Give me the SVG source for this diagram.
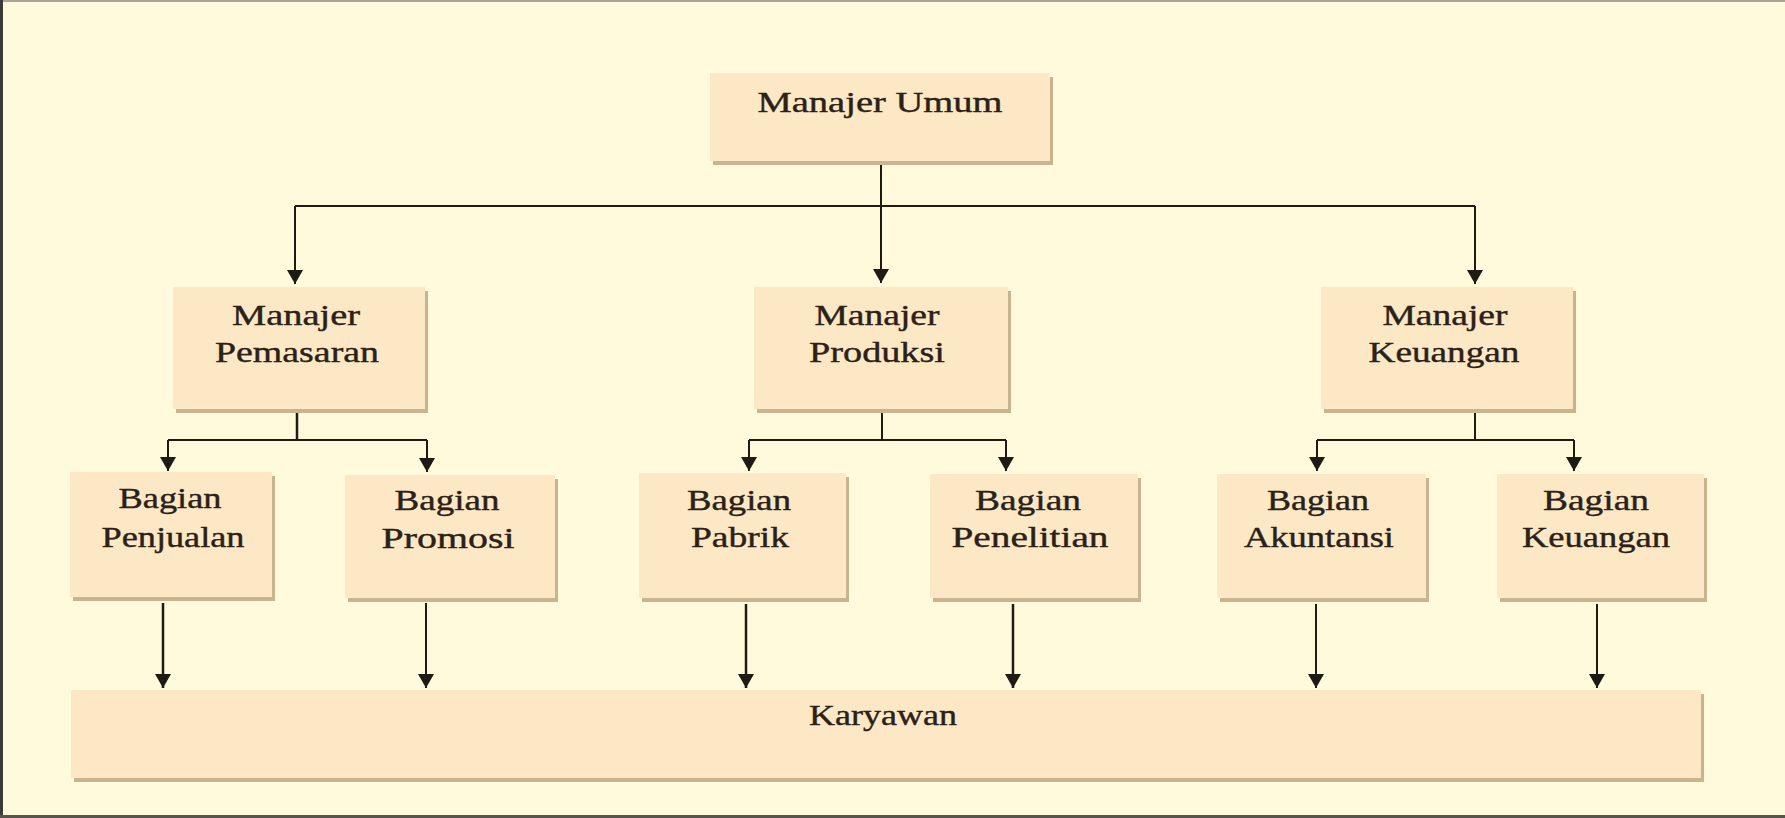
<svg xmlns="http://www.w3.org/2000/svg" width="1785" height="818" viewBox="0 0 1785 818">
  <style>
    .bg { fill: #FFFADB; }
    .box { fill: #FDE8C6; }
    .shadow { fill: #C9B48E; }
    .lbl { font-family: "Liberation Serif", "Times New Roman", serif; font-size: 30px; fill: #2A2118; stroke: #2A2118; stroke-width: 0.4; text-anchor: middle; }
    .con { stroke: #1E1A14; stroke-width: 2; fill: none; }
    .con2 { stroke: #1E1A14; stroke-width: 2.5; fill: none; }
  </style>
  <defs>
    <marker id="arr" viewBox="0 0 14 16" refX="14" refY="8" markerUnits="userSpaceOnUse" markerWidth="14" markerHeight="16" orient="auto">
      <path d="M0,0 L14,8 L0,16 z" fill="#1E1A14"/>
    </marker>
  </defs>
  <rect class="bg" x="0" y="0" width="1785" height="818"/>
  <line x1="0" y1="1" x2="1785" y2="1" stroke="#A9A594" stroke-width="2"/>
  <line x1="1.5" y1="0" x2="1.5" y2="818" stroke="#3A3A36" stroke-width="3"/>
  <line x1="0" y1="816.5" x2="1785" y2="816.5" stroke="#55544E" stroke-width="3"/>

  <g id="connectors">
    <path class="con" d="M881,165 V283" marker-end="url(#arr)"/>
    <path class="con" d="M295,206 H1475"/>
    <path class="con" d="M295,206 V284" marker-end="url(#arr)"/>
    <path class="con" d="M1475,206 V284" marker-end="url(#arr)"/>

    <path class="con2" d="M297,413 V440"/>
    <path class="con" d="M168,440 H427"/>
    <path class="con" d="M168,440 V471" marker-end="url(#arr)"/>
    <path class="con" d="M427,440 V472" marker-end="url(#arr)"/>

    <path class="con" d="M882,413 V440"/>
    <path class="con" d="M749,440 H1006"/>
    <path class="con" d="M749,440 V471" marker-end="url(#arr)"/>
    <path class="con" d="M1006,440 V471" marker-end="url(#arr)"/>

    <path class="con" d="M1475,413 V440"/>
    <path class="con" d="M1317,440 H1574"/>
    <path class="con" d="M1317,440 V471" marker-end="url(#arr)"/>
    <path class="con" d="M1574,440 V471" marker-end="url(#arr)"/>

    <path class="con2" d="M163,603 V688" marker-end="url(#arr)"/>
    <path class="con" d="M426,603 V688" marker-end="url(#arr)"/>
    <path class="con2" d="M746,604 V688" marker-end="url(#arr)"/>
    <path class="con2" d="M1013,604 V688" marker-end="url(#arr)"/>
    <path class="con" d="M1316,604 V688" marker-end="url(#arr)"/>
    <path class="con" d="M1597,604 V688" marker-end="url(#arr)"/>
  </g>

  <g id="manajer-umum">
    <rect class="shadow" x="713" y="77" width="340" height="88"/>
    <rect class="box" x="710" y="73" width="340" height="88"/>
    <text class="lbl" x="880" y="112" textLength="245" lengthAdjust="spacingAndGlyphs">Manajer Umum</text>
  </g>

  <g id="manajer-pemasaran">
    <rect class="shadow" x="176" y="291" width="252" height="122"/>
    <rect class="box" x="173" y="287" width="252" height="122"/>
    <text class="lbl" x="296" y="325" textLength="128" lengthAdjust="spacingAndGlyphs">Manajer</text>
    <text class="lbl" x="297" y="362" textLength="164" lengthAdjust="spacingAndGlyphs">Pemasaran</text>
  </g>

  <g id="manajer-produksi">
    <rect class="shadow" x="757" y="291" width="254" height="122"/>
    <rect class="box" x="754" y="287" width="254" height="122"/>
    <text class="lbl" x="877" y="325" textLength="125" lengthAdjust="spacingAndGlyphs">Manajer</text>
    <text class="lbl" x="877" y="362" textLength="136" lengthAdjust="spacingAndGlyphs">Produksi</text>
  </g>

  <g id="manajer-keuangan">
    <rect class="shadow" x="1324" y="291" width="252" height="122"/>
    <rect class="box" x="1321" y="287" width="252" height="122"/>
    <text class="lbl" x="1445" y="325" textLength="125" lengthAdjust="spacingAndGlyphs">Manajer</text>
    <text class="lbl" x="1444" y="362" textLength="151" lengthAdjust="spacingAndGlyphs">Keuangan</text>
  </g>

  <g id="bagian-penjualan">
    <rect class="shadow" x="73" y="476" width="202" height="125"/>
    <rect class="box" x="70" y="472" width="202" height="125"/>
    <text class="lbl" x="170" y="508" textLength="103" lengthAdjust="spacingAndGlyphs">Bagian</text>
    <text class="lbl" x="173" y="547" textLength="143" lengthAdjust="spacingAndGlyphs">Penjualan</text>
  </g>

  <g id="bagian-promosi">
    <rect class="shadow" x="348" y="479" width="210" height="123"/>
    <rect class="box" x="345" y="475" width="210" height="123"/>
    <text class="lbl" x="447" y="510" textLength="105" lengthAdjust="spacingAndGlyphs">Bagian</text>
    <text class="lbl" x="448" y="548" textLength="133" lengthAdjust="spacingAndGlyphs">Promosi</text>
  </g>

  <g id="bagian-pabrik">
    <rect class="shadow" x="642" y="477" width="207" height="125"/>
    <rect class="box" x="639" y="473" width="207" height="125"/>
    <text class="lbl" x="739" y="510" textLength="104" lengthAdjust="spacingAndGlyphs">Bagian</text>
    <text class="lbl" x="740" y="547" textLength="98" lengthAdjust="spacingAndGlyphs">Pabrik</text>
  </g>

  <g id="bagian-penelitian">
    <rect class="shadow" x="933" y="478" width="208" height="124"/>
    <rect class="box" x="930" y="474" width="208" height="124"/>
    <text class="lbl" x="1028" y="510" textLength="106" lengthAdjust="spacingAndGlyphs">Bagian</text>
    <text class="lbl" x="1030" y="547" textLength="157" lengthAdjust="spacingAndGlyphs">Penelitian</text>
  </g>

  <g id="bagian-akuntansi">
    <rect class="shadow" x="1220" y="478" width="209" height="124"/>
    <rect class="box" x="1217" y="474" width="209" height="124"/>
    <text class="lbl" x="1318" y="510" textLength="102" lengthAdjust="spacingAndGlyphs">Bagian</text>
    <text class="lbl" x="1319" y="547" textLength="150" lengthAdjust="spacingAndGlyphs">Akuntansi</text>
  </g>

  <g id="bagian-keuangan">
    <rect class="shadow" x="1500" y="478" width="207" height="124"/>
    <rect class="box" x="1497" y="474" width="207" height="124"/>
    <text class="lbl" x="1596" y="510" textLength="106" lengthAdjust="spacingAndGlyphs">Bagian</text>
    <text class="lbl" x="1596" y="547" textLength="148" lengthAdjust="spacingAndGlyphs">Keuangan</text>
  </g>

  <g id="karyawan">
    <rect class="shadow" x="74" y="694" width="1630" height="88"/>
    <rect class="box" x="71" y="690" width="1630" height="88"/>
    <text class="lbl" x="883" y="725" textLength="148" lengthAdjust="spacingAndGlyphs">Karyawan</text>
  </g>
</svg>
